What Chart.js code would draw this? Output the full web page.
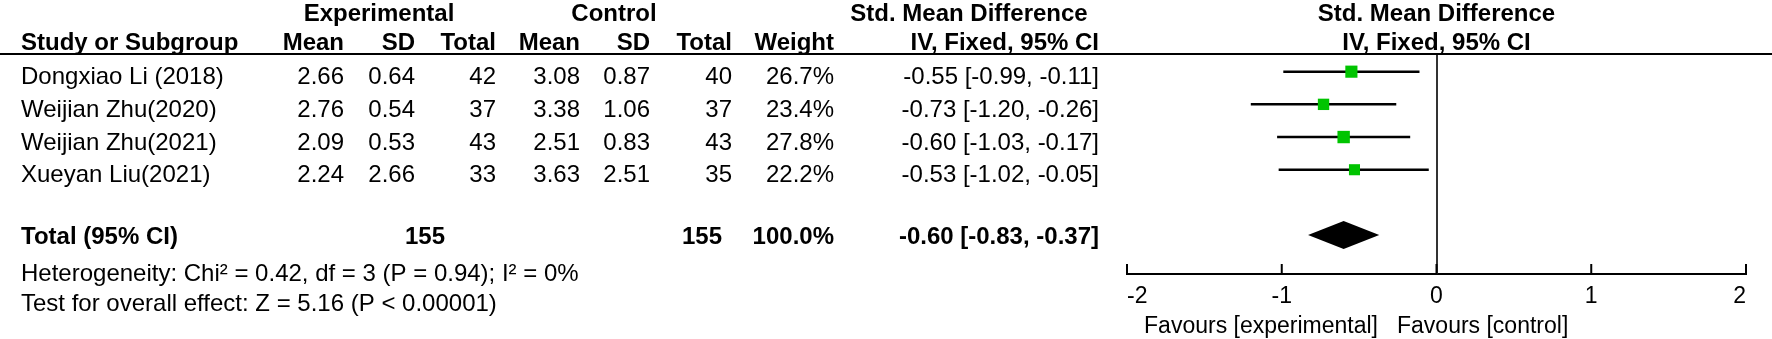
<!DOCTYPE html>
<html><head><meta charset="utf-8">
<script src="https://cdn.jsdelivr.net/npm/chart.js@4.4.0/dist/chart.umd.min.js"></script>
<style>html,body{margin:0;padding:0;background:#fff;}#wrap{position:relative;width:1772px;height:339px;}</style>
</head><body><div id="wrap"><canvas id="c" width="1772" height="339"></canvas></div>
<script>
const studies = ["Dongxiao Li (2018)", "Weijian Zhu(2020)", "Weijian Zhu(2021)", "Xueyan Liu(2021)"];
const expMean = ["2.66", "2.76", "2.09", "2.24"];
const expSD = ["0.64", "0.54", "0.53", "2.66"];
const expN = [42, 37, 43, 33];
const ctlMean = ["3.08", "3.38", "2.51", "3.63"];
const ctlSD = ["0.87", "1.06", "0.83", "2.51"];
const ctlN = [40, 37, 43, 35];
const weights = [26.7, 23.4, 27.8, 22.2];
const smd = [-0.55, -0.73, -0.60, -0.53];
const ciLow = [-0.99, -1.20, -1.03, -1.02];
const ciHigh = [-0.11, -0.26, -0.17, -0.05];
const totalLabel = "Total (95% CI)";
const totalExpN = [155];
const totalCtlN = [155];
const totalWeight = ["100.0%"];
const totalSmd = [-0.60];
const totalLow = [-0.83];
const totalHigh = [-0.37];
const totalRow = 5;
const heterogeneity = "Heterogeneity: Chi\u00B2 = 0.42, df = 3 (P = 0.94); I\u00B2 = 0%";
const overall = "Test for overall effect: Z = 5.16 (P < 0.00001)";
const xTicks = [-2, -1, 0, 1, 2];
const favours = ["Favours [experimental]", "Favours [control]"];

const FONT = "'Liberation Sans', Arial, sans-serif";
const FS = 24;
const TXT_OFF = 6;

const f2 = v => v.toFixed(2);
const ciText = (m, l, h) => `${f2(m)} [${f2(l)}, ${f2(h)}]`;
function x0(x) { return x.getPixelForValue(0); }

const tablePlugin = {
  id: 'table',
  beforeDatasetsDraw(chart) {
    const {ctx, chartArea, scales: {x}} = chart;
    ctx.save();
    ctx.fillStyle = '#000';
    ctx.fillRect(0, 53, 1772, 2);
    const xz = Math.round(x0(x));
    ctx.fillStyle = '#333';
    ctx.fillRect(xz - 1, 55, 2, chartArea.bottom - 55);
    ctx.restore();
  },
  afterDraw(chart) {
    const {ctx, chartArea, scales: {x, y}} = chart;
    ctx.save();
    ctx.fillStyle = '#000';
    ctx.strokeStyle = '#000';
    ctx.lineWidth = 2;
    xTicks.forEach(v => {
      const px = x.getPixelForValue(v);
      ctx.beginPath();
      ctx.moveTo(px, chartArea.bottom - 10);
      ctx.lineTo(px, chartArea.bottom + 1);
      ctx.stroke();
    });
    const yt = y.getPixelForValue(totalRow);
    ctx.beginPath();
    ctx.moveTo(x.getPixelForValue(totalLow[0]), yt);
    ctx.lineTo(x.getPixelForValue(totalSmd[0]), yt - 14);
    ctx.lineTo(x.getPixelForValue(totalHigh[0]), yt);
    ctx.lineTo(x.getPixelForValue(totalSmd[0]), yt + 14);
    ctx.closePath();
    ctx.fill();

    const txt = (s, px, py, align, bold, size) => {
      ctx.font = (bold ? 'bold ' : '') + (size || FS) + 'px ' + FONT;
      ctx.textAlign = align;
      ctx.textBaseline = 'middle';
      ctx.fillText(s, px, py);
    };
    txt('Experimental', 379, 14, 'center', true);
    txt('Control', 614, 14, 'center', true);
    txt('Std. Mean Difference', 969, 14, 'center', true);
    txt('Std. Mean Difference', x0(x), 14, 'center', true);
    txt('Study or Subgroup', 21, 43, 'left', true);
    txt('Mean', 344, 43, 'right', true);
    txt('SD', 415, 43, 'right', true);
    txt('Total', 496, 43, 'right', true);
    txt('Mean', 580, 43, 'right', true);
    txt('SD', 650, 43, 'right', true);
    txt('Total', 732, 43, 'right', true);
    txt('Weight', 834, 43, 'right', true);
    txt('IV, Fixed, 95% CI', 1099, 43, 'right', true);
    txt('IV, Fixed, 95% CI', x0(x), 43, 'center', true);
    studies.forEach((s, i) => {
      const py = y.getPixelForValue(i) + TXT_OFF;
      txt(s, 21, py, 'left');
      txt(expMean[i], 344, py, 'right');
      txt(expSD[i], 415, py, 'right');
      txt(String(expN[i]), 496, py, 'right');
      txt(ctlMean[i], 580, py, 'right');
      txt(ctlSD[i], 650, py, 'right');
      txt(String(ctlN[i]), 732, py, 'right');
      txt(weights[i].toFixed(1) + '%', 834, py, 'right');
      txt(ciText(smd[i], ciLow[i], ciHigh[i]), 1099, py, 'right');
    });
    const ytt = yt + 2;
    txt(totalLabel, 21, ytt, 'left', true);
    txt(String(totalExpN[0]), 445, ytt, 'right', true);
    txt(String(totalCtlN[0]), 722, ytt, 'right', true);
    txt(totalWeight[0], 834, ytt, 'right', true);
    txt(ciText(totalSmd[0], totalLow[0], totalHigh[0]), 1099, ytt, 'right', true);
    txt(heterogeneity, 21, 274, 'left');
    txt(overall, 21, 304, 'left');
    txt(favours[0], 1378, 327, 'right', false, 23);
    txt(favours[1], 1397, 327, 'left', false, 23);
    ctx.restore();
  }
};

const ciSets = ciLow.map((lo, i) => ({
  type: 'scatter',
  data: [{x: lo, y: i}, {x: ciHigh[i], y: i}],
  showLine: true,
  borderColor: '#000',
  borderWidth: 2.5,
  pointRadius: 0,
  order: 2
}));

new Chart(document.getElementById('c'), {
  type: 'scatter',
  data: {
    datasets: [
      {
        data: smd.map((v, i) => ({x: v, y: i})),
        pointStyle: 'rect',
        pointRadius: weights.map(w => 2.35 * Math.sqrt(w) / Math.SQRT2),
        backgroundColor: '#00C400',
        borderWidth: 0,
        order: 0
      },
      ...ciSets
    ]
  },
  options: {
    responsive: false,
    animation: false,
    events: [],
    layout: {autoPadding: false, padding: {left: 1127, right: 26, top: 55, bottom: 0}},
    plugins: {legend: {display: false}, tooltip: {enabled: false}},
    scales: {
      x: {
        type: 'linear', min: -2, max: 2, position: 'bottom',
        afterBuildTicks: s => { s.ticks = xTicks.map(v => ({value: v})); },
        afterFit: s => { s.height = 65; },
        grid: {display: false, drawTicks: false},
        border: {display: true, color: '#000', width: 2},
        ticks: {
          color: '#000', font: {family: FONT, size: 23}, align: 'inner',
          padding: 9, maxRotation: 0, callback: v => String(v)
        }
      },
      y: {type: 'linear', reverse: true, min: -0.51, max: 6.19, display: false}
    }
  },
  plugins: [tablePlugin]
});
</script></body></html>
